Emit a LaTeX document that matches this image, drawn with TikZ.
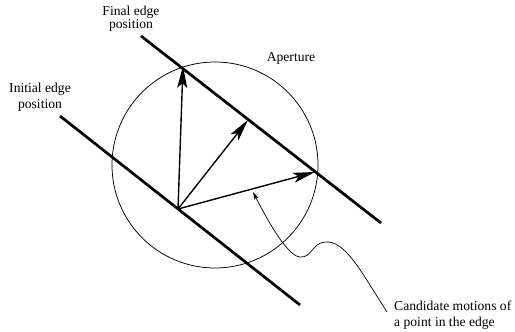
\documentclass[tikz,border=0pt]{standalone}
\usepackage{fontspec}
\setmainfont{Liberation Serif}
\usetikzlibrary{arrows.meta}
\begin{document}
\begin{tikzpicture}[x=1pt,y=-1pt,
  edgeline/.style={line width=2.7pt},
  motion/.style={line width=1.4pt,-{Stealth[length=22pt,width=10pt,inset=5pt]}},
  pointer/.style={line width=0.7pt,-{Stealth[length=8pt,width=4.5pt,inset=2pt]}},
  lbl/.style={inner sep=0pt,align=center},
  txt/.style={font=\fontsize{13.6}{16.5}\selectfont}]
\useasboundingbox (0,0) rectangle (515,332);
% aperture
\node[circle,draw,line width=0.75pt,minimum size=206pt,inner sep=0pt] (ap) at (215,165) {};
% edges
\coordinate (i1) at (60,116);
\coordinate (i2) at (300,305);
\coordinate (f1) at (141,36);
\coordinate (f2) at (381,223);
\draw[edgeline] (i1) -- (i2);
\draw[edgeline] (f1) -- (f2);
% motions
\coordinate (o) at (178,209);
\coordinate (t1) at (183,66);
\coordinate (t2) at (248,120);
\coordinate (t3) at (315,172);
\draw[motion] (o) -- (t1);
\draw[motion] (o) -- (t2);
\draw[motion] (o) -- (t3);
% labels
\node[lbl,font=\fontsize{13.6}{11.7}\selectfont] (fin) at (131,19) {Final edge\\position};
\node[lbl,txt] (ini) at (40,97) {Initial edge\\position};
\node[lbl,txt] (apl) at (291,58) {Aperture};
\node[lbl,txt,align=left,anchor=west] (cand) at (394,315) {Candidate motions of\\a point in the edge};
\coordinate (p0) at (387,312);
\coordinate (p1) at (253,192);
\draw[pointer] (p0) .. controls (360,270) and (345,240) .. (325,242)
  .. controls (312,243) and (312,258) .. (300,257)
  .. controls (288,256) and (270,225) .. (p1);
\end{tikzpicture}
\end{document}
